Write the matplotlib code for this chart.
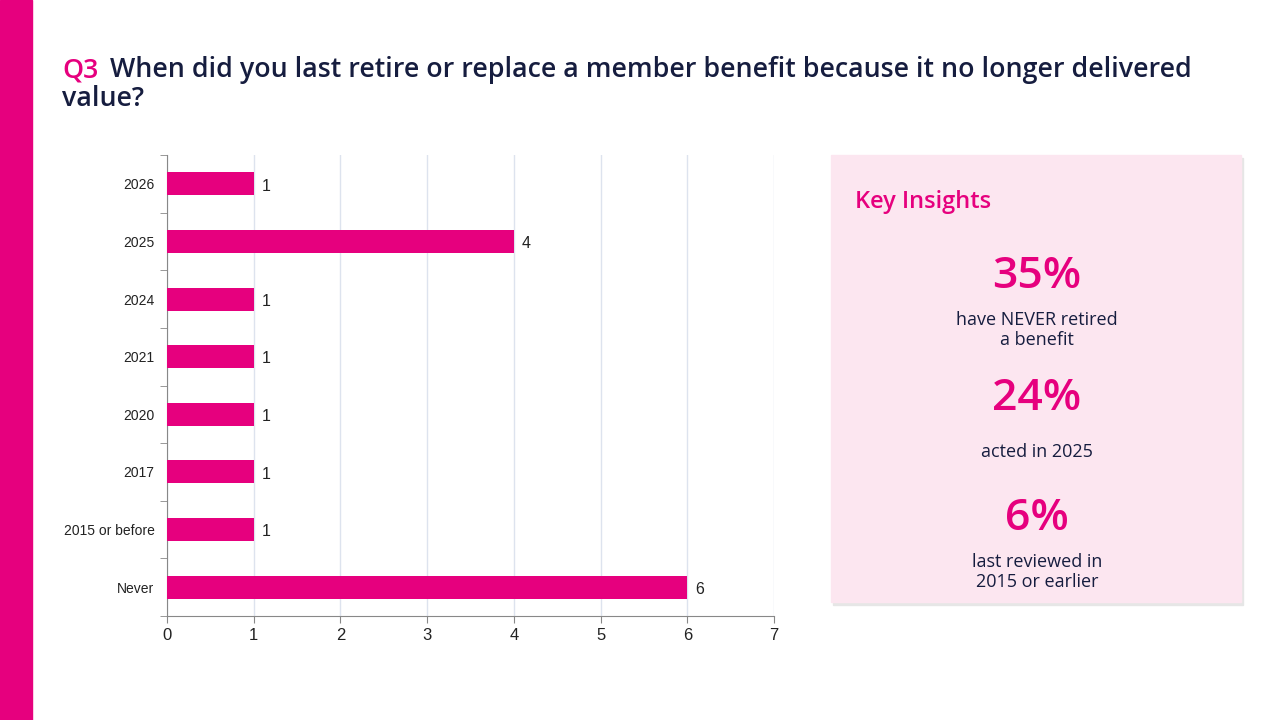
import matplotlib.pyplot as plt
from matplotlib.patches import Rectangle
import numpy as np

PINK = '#E6007E'
NAVY = '#161D3F'

# data
categories = ['2026', '2025', '2024', '2021', '2020', '2017', '2015 or before', 'Never']
counts = [1, 4, 1, 1, 1, 1, 1, 6]
x_ticks = [0, 1, 2, 3, 4, 5, 6, 7]

insight_values = ['35%', '24%', '6%']
insight_texts = ['have NEVER retired\na benefit', 'acted in 2025', 'last reviewed in\n2015 or earlier']

fig = plt.figure(figsize=(12.8, 7.2), dpi=100)
fig.patch.set_facecolor('white')

# left pink strip
fig.add_artist(Rectangle((0, 0), 32 / 1280, 1, transform=fig.transFigure, color=PINK, zorder=0))

# title
fig.text(62 / 1280, 1 - 70 / 720, 'Q3', color=PINK, fontsize=19.3, fontfamily='Open Sans',
         fontweight='semibold', va='center')
fig.text(110 / 1280, 1 - 70 / 720, 'When did you last retire or replace a member benefit because it no longer delivered',
         color=NAVY, fontsize=19.3, fontfamily='Open Sans', fontweight='semibold', va='center')
fig.text(62 / 1280, 1 - 99 / 720, 'value?', color=NAVY, fontsize=19.3, fontfamily='Open Sans',
         fontweight='semibold', va='center')

# bar chart
ax = fig.add_axes([167 / 1280, 1 - 616 / 720, 607 / 1280, 461 / 720])
y = np.arange(len(categories))
ax.barh(y, counts, height=0.4, color=PINK, zorder=3)
for yi, c in zip(y, counts):
    ax.text(c + 0.09, yi + 0.04, str(c), va='center', ha='left', fontsize=11.5,
            fontfamily='Liberation Sans', color='#222222')

ax.set_ylim(len(categories) - 0.5, -0.5)
ax.set_xlim(0, 7)
ax.set_xticks(x_ticks)
ax.set_xticklabels([str(t) for t in x_ticks], fontsize=12, fontfamily='Liberation Sans', color='#222222')
ax.set_yticks(y)
ax.set_yticklabels(categories, fontsize=10, fontfamily='Liberation Sans', color='#222222')
ax.tick_params(axis='y', length=0, pad=9)
ax.set_yticks(np.arange(-0.5, len(categories)), minor=True)
ax.tick_params(axis='y', which='minor', length=5, color='#888888', direction='out')
ax.tick_params(axis='x', length=5, color='#888888', pad=4)
ax.grid(axis='x', color='#DDE3EE', linewidth=1, zorder=0)
for s in ['top', 'right']:
    ax.spines[s].set_visible(False)
for s in ['left', 'bottom']:
    ax.spines[s].set_color('#888888')

# insights panel
px0, py0, pw, ph = 831 / 1280, 1 - 602 / 720, 410 / 1280, 447 / 720
fig.add_artist(Rectangle((px0 + 2 / 1280, py0 - 3 / 720), pw, ph, transform=fig.transFigure,
                         color='#E6E6E6', zorder=1))
fig.add_artist(Rectangle((px0, py0), pw, ph, transform=fig.transFigure,
                         color='#FCE6F0', zorder=2))
fig.text(855 / 1280, 1 - 202 / 720, 'Key Insights', color=PINK, fontsize=17,
         fontfamily='Open Sans', fontweight='semibold', va='center', zorder=3)

cx = 1037 / 1280
big_y = [276, 398, 519]
small_y = [330, 452, 572]
for v, t, by, sy in zip(insight_values, insight_texts, big_y, small_y):
    fig.text(cx, 1 - by / 720, v, color=PINK, fontsize=32, fontfamily='Open Sans',
             fontweight='semibold', ha='center', va='center', zorder=3)
    fig.text(cx, 1 - sy / 720, t, color=NAVY, fontsize=13, fontfamily='Open Sans',
             ha='center', va='center', linespacing=1.1, zorder=3)

fig.savefig('out.png', dpi=100)
